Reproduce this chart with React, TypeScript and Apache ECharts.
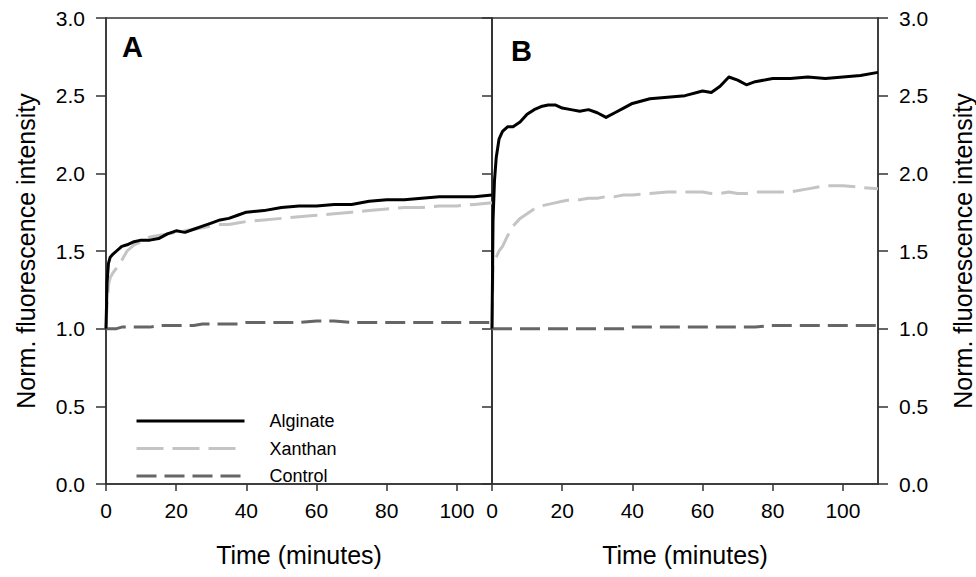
import React, { useEffect, useRef } from "react";
import * as echarts from "echarts";

const FONT = "'Liberation Sans', Arial, sans-serif";

const seriesNames = ["Alginate", "Xanthan", "Control"];
const xTickValues = [0, 20, 40, 60, 80, 100];

const timeA = [0, 0.3, 0.7, 1.2, 2, 3, 4.5, 6, 8, 10, 12.5, 15, 17.5, 20, 22.5, 25, 27.5, 30, 32.5, 35, 37.5, 40, 45, 50, 55, 60, 65, 70, 75, 80, 85, 90, 95, 100, 105, 110];
const alginateA = [1.0, 1.3, 1.42, 1.46, 1.48, 1.5, 1.53, 1.54, 1.56, 1.57, 1.57, 1.58, 1.61, 1.63, 1.62, 1.64, 1.66, 1.68, 1.7, 1.71, 1.73, 1.75, 1.76, 1.78, 1.79, 1.79, 1.8, 1.8, 1.82, 1.83, 1.83, 1.84, 1.85, 1.85, 1.85, 1.86];
const xanthanA = [1.0, 1.15, 1.28, 1.33, 1.36, 1.39, 1.44, 1.5, 1.54, 1.56, 1.59, 1.6, 1.61, 1.62, 1.63, 1.64, 1.65, 1.66, 1.67, 1.67, 1.68, 1.69, 1.7, 1.71, 1.72, 1.73, 1.74, 1.75, 1.76, 1.77, 1.78, 1.78, 1.79, 1.79, 1.8, 1.81];
const controlA = [1.0, 1.0, 1.0, 1.0, 1.0, 1.0, 1.01, 1.01, 1.01, 1.01, 1.01, 1.02, 1.02, 1.02, 1.02, 1.02, 1.03, 1.03, 1.03, 1.03, 1.03, 1.04, 1.04, 1.04, 1.04, 1.05, 1.05, 1.04, 1.04, 1.04, 1.04, 1.04, 1.04, 1.04, 1.04, 1.04];

const timeB = [0, 0.3, 0.7, 1.2, 2, 3, 4.5, 6, 8, 10, 12, 14, 16, 18, 20, 22.5, 25, 27.5, 30, 32.5, 35, 37.5, 40, 45, 50, 55, 60, 62.5, 65, 67.5, 70, 72.5, 75, 80, 85, 90, 95, 100, 105, 110];
const alginateB = [1.0, 1.7, 1.95, 2.1, 2.22, 2.27, 2.3, 2.3, 2.33, 2.38, 2.41, 2.43, 2.44, 2.44, 2.42, 2.41, 2.4, 2.41, 2.39, 2.36, 2.39, 2.42, 2.45, 2.48, 2.49, 2.5, 2.53, 2.52, 2.56, 2.62, 2.6, 2.57, 2.59, 2.61, 2.61, 2.62, 2.61, 2.62, 2.63, 2.65];
const xanthanB = [1.0, 1.4, 1.44, 1.46, 1.5, 1.53, 1.6, 1.66, 1.71, 1.74, 1.77, 1.79, 1.8, 1.81, 1.82, 1.83, 1.83, 1.84, 1.84, 1.85, 1.85, 1.86, 1.86, 1.87, 1.88, 1.88, 1.88, 1.87, 1.87, 1.88, 1.87, 1.87, 1.88, 1.88, 1.88, 1.9, 1.92, 1.92, 1.91, 1.9];
const controlB = [1.0, 1.0, 1.0, 1.0, 1.0, 1.0, 1.0, 1.0, 1.0, 1.0, 1.0, 1.0, 1.0, 1.0, 1.0, 1.0, 1.0, 1.0, 1.0, 1.0, 1.0, 1.0, 1.01, 1.01, 1.01, 1.01, 1.01, 1.01, 1.01, 1.01, 1.01, 1.01, 1.01, 1.02, 1.02, 1.02, 1.02, 1.02, 1.02, 1.02];

const pairs = (t: number[], v: number[]) => t.map((x, i) => [x, v[i]]);

const AXIS_COLOR = "#333";

export default function App() {
  const ref = useRef<HTMLDivElement>(null);
  useEffect(() => {
    if (!ref.current) return;
    const chart = echarts.init(ref.current, null, { renderer: "svg" });

    const styles: Record<string, any> = {
      Alginate: { color: "#000000", width: 3, type: "solid" },
      Xanthan: { color: "#c4c4c4", width: 3, type: [27, 9] },
      Control: { color: "#666666", width: 3, type: [20, 8] },
    };

    const mk = (name: string, t: number[], v: number[], idx: number, yIdx: number, z: number) => ({
      name,
      type: "line",
      xAxisIndex: idx,
      yAxisIndex: yIdx,
      data: pairs(t, v),
      symbol: "none",
      showSymbol: false,
      z,
      lineStyle: { ...styles[name], cap: "butt", join: "round" },
      itemStyle: { color: styles[name].color },
    });

    const xAxisBase = (gridIndex: number) => ({
      type: "value",
      gridIndex,
      min: 0,
      max: 110,
      interval: 20,
      name: "Time (minutes)",
      nameLocation: "middle",
      nameGap: 58,
      nameTextStyle: { fontSize: 25, color: "#000", fontFamily: FONT },
      axisLine: { show: true, onZero: false, lineStyle: { color: AXIS_COLOR, width: 1.5 } },
      axisTick: { show: true, inside: false, length: 7, customValues: xTickValues, lineStyle: { color: AXIS_COLOR, width: 1.5 } },
      axisLabel: { show: true, margin: 16, fontSize: 21, color: "#000", fontFamily: FONT, customValues: xTickValues },
      splitLine: { show: false },
    });

    const yAxisBase = (gridIndex: number, position: string, labels: boolean, name: string) => ({
      type: "value",
      gridIndex,
      position,
      min: 0,
      max: 3,
      interval: 0.5,
      name,
      nameLocation: "middle",
      nameRotate: 90,
      nameGap: position === "left" ? 68 : 72,
      nameTextStyle: { fontSize: 25, color: "#000", fontFamily: FONT },
      axisLine: { show: true, onZero: false, lineStyle: { color: AXIS_COLOR, width: 1.5 } },
      axisTick: { show: true, inside: false, length: 10, lineStyle: { color: AXIS_COLOR, width: 1.5 } },
      axisLabel: { show: labels, margin: 21, fontSize: 21, color: "#000", fontFamily: FONT, formatter: (v: number) => v.toFixed(1) },
      splitLine: { show: false },
    });

    chart.setOption({
      animation: false,
      backgroundColor: "#fff",
      textStyle: { fontFamily: FONT },
      grid: [
        { left: 106, top: 18, width: 386, height: 466, show: true, borderColor: AXIS_COLOR, borderWidth: 1.5, backgroundColor: "transparent" },
        { left: 492, top: 18, width: 386, height: 466, show: true, borderColor: AXIS_COLOR, borderWidth: 1.5, backgroundColor: "transparent" },
      ],
      xAxis: [xAxisBase(0), xAxisBase(1)],
      yAxis: [
        yAxisBase(0, "left", true, "Norm. fluorescence intensity"),
        yAxisBase(1, "left", false, ""),
        yAxisBase(1, "right", true, "Norm. fluorescence intensity"),
      ],
      legend: {
        data: seriesNames,
        orient: "vertical",
        left: 130,
        top: 407,
        itemWidth: 108,
        itemHeight: 14,
        itemGap: 9.5,
        itemStyle: { opacity: 0, color: "rgba(0,0,0,0)", borderColor: "rgba(0,0,0,0)", borderWidth: 0 },
        lineStyle: { width: 3 },
        textStyle: { fontSize: 18, color: "#000", fontFamily: FONT, padding: [0, 0, 0, 20] },
      },
      graphic: [
        { type: "text", left: 122, top: 32, style: { text: "A", font: `bold 29px ${FONT}`, fill: "#000" } },
        { type: "text", left: 511, top: 36, style: { text: "B", font: `bold 29px ${FONT}`, fill: "#000" } },
      ],
      series: [
        mk("Control", timeA, controlA, 0, 0, 2),
        mk("Xanthan", timeA, xanthanA, 0, 0, 3),
        mk("Alginate", timeA, alginateA, 0, 0, 4),
        mk("Control", timeB, controlB, 1, 2, 2),
        mk("Xanthan", timeB, xanthanB, 1, 2, 3),
        mk("Alginate", timeB, alginateB, 1, 2, 4),
      ],
    });
    return () => chart.dispose();
  }, []);
  return <div ref={ref} style={{ position: "fixed", left: 0, top: 0, width: 976, height: 577 }} />;
}
